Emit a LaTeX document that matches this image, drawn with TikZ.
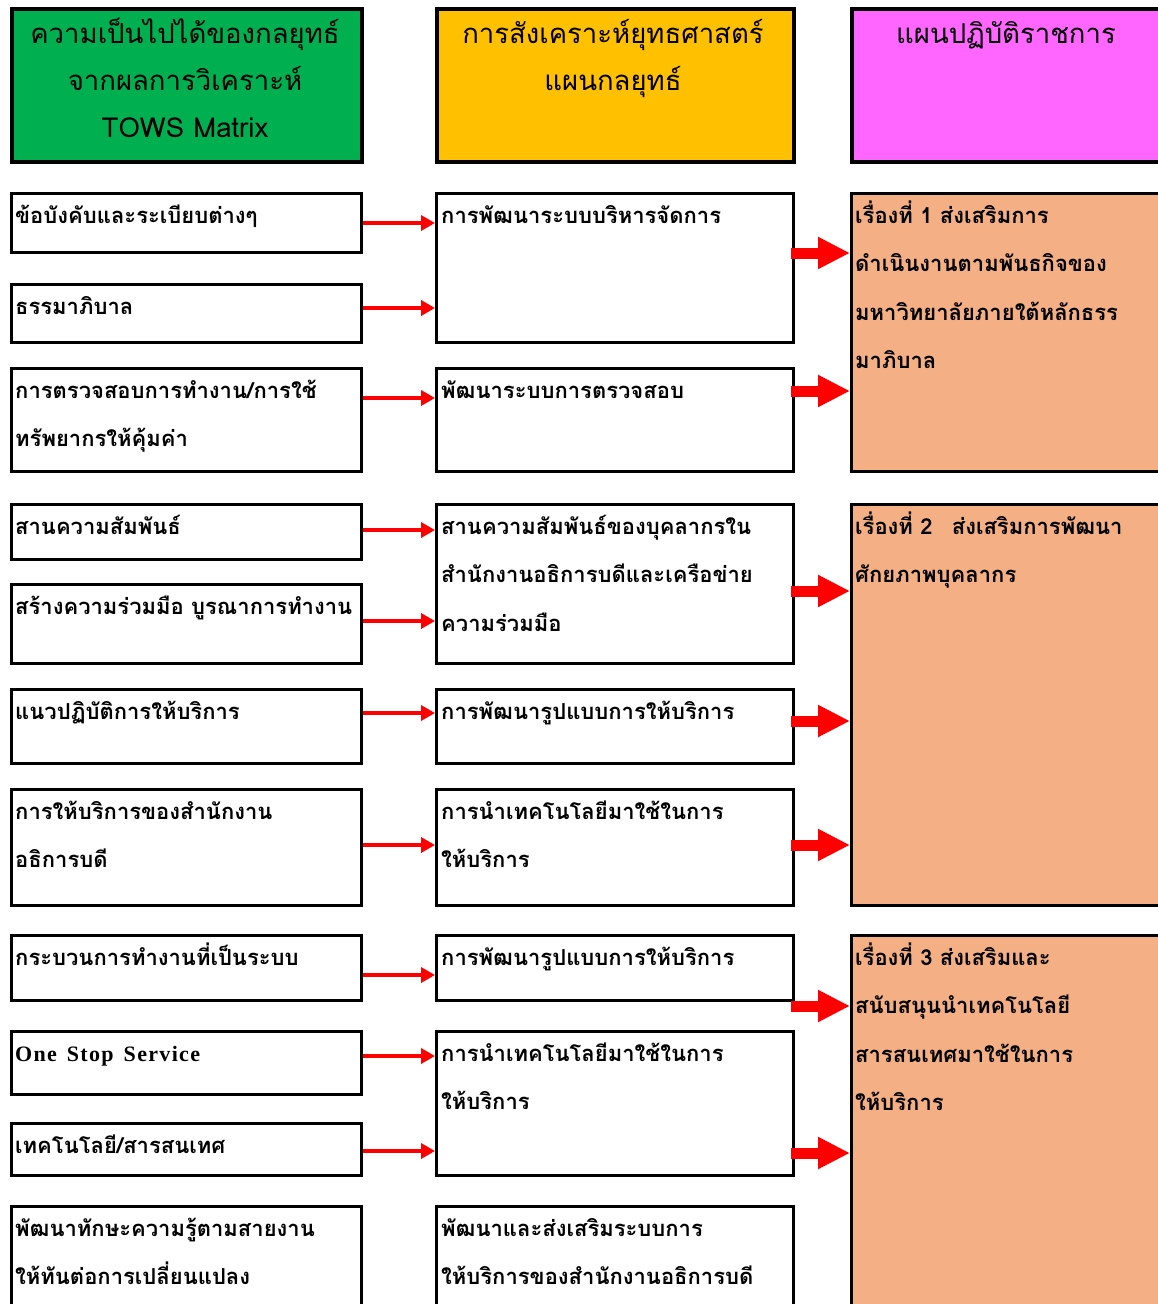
\documentclass[tikz,border=0pt]{standalone}
\usepackage{fontspec}
\setmainfont[Script=Thai]{Loma}
\newfontfamily\latinserif[LetterSpace=6]{Liberation Serif}
\usetikzlibrary{positioning}
\usetikzlibrary{arrows.meta}
\definecolor{headgreen}{HTML}{00B050}
\definecolor{headyellow}{HTML}{FFC000}
\definecolor{headpink}{HTML}{FF66FF}
\definecolor{planorange}{HTML}{F4B084}

\begin{document}
\begin{tikzpicture}[x=1pt, y=-1pt,
  headbox/.style={draw=black, line width=4, anchor=north west, minimum height=153},
  itembox/.style={draw=black, line width=3, fill=white, anchor=north west},
  headtext/.style={font=\fontsize{27.5}{47}\selectfont, text width=340, align=center, inner sep=0, anchor=base},
  itemtext/.style={font=\bfseries\fontsize{22}{48.5}\selectfont, text width=340, align=left, inner sep=0, anchor=base west},
  thinarrow/.style={draw=red, line width=4, -{Triangle[length=14pt,width=15pt]}},
  bigarrow/.style={draw=red, line width=11, -{Triangle[length=32pt,width=30pt]}}]

\useasboundingbox (0,0) rectangle (1158,1304);

% headers
{
\node[headbox, fill=headgreen, minimum width=350] (h1) at (10,7) {};
\node[headbox, fill=headyellow, minimum width=357] (h2) at (435,7) {};
\node[headbox, fill=headpink, minimum width=320] (h3) at (850,7) {};

\node[headtext] (h1t) at ([shift={(175,36)}]h1.north west) {ความเป็นไปได้ของกลยุทธ์\\ จากผลการวิเคราะห์\\ TOWS Matrix};
\node[headtext] (h2t) at ([shift={(178,36)}]h2.north west) {การสังเคราะห์ยุทธศาสตร์\\ แผนกลยุทธ์};
\node[headtext] (h3t) at ([shift={(156,36)}]h3.north west) {แผนปฏิบัติราชการ};
}

% left column
\begin{scope}{
\node[itembox, minimum width=350, minimum height=59] (l1) at (10,192) {};
\node[itembox, minimum width=350, minimum height=58] (l2) at (10,283) {};
\node[itembox, minimum width=350, minimum height=103] (l3) at (10,367) {};
\node[itembox, minimum width=350, minimum height=55] (l4) at (10,503) {};
\node[itembox, minimum width=350, minimum height=79] (l5) at (10,583) {};
\node[itembox, minimum width=350, minimum height=74] (l6) at (10,688) {};
\node[itembox, minimum width=350, minimum height=116] (l7) at (10,788) {};
\node[itembox, minimum width=350, minimum height=65] (l8) at (10,934) {};
\node[itembox, minimum width=350, minimum height=63] (l9) at (10,1030) {};
\node[itembox, minimum width=350, minimum height=52] (l10) at (10,1122) {};
\node[itembox, minimum width=350, minimum height=120] (l11) at (10,1205) {};

% nodes
\node[itemtext] (l1t) at ([shift={(5,31)}]l1.north west) {ข้อบังคับและระเบียบต่างๆ};
\node[itemtext] (l2t) at ([shift={(5,31)}]l2.north west) {ธรรมาภิบาล};
\node[itemtext] (l3t) at ([shift={(5,31)}]l3.north west) {การตรวจสอบการทำงาน/การใช้\\ ทรัพยากรให้คุ้มค่า};
\node[itemtext] (l4t) at ([shift={(5,31)}]l4.north west) {สานความสัมพันธ์};
\node[itemtext] (l5t) at ([shift={(5,31)}]l5.north west) {สร้างความร่วมมือ บูรณาการทำงาน};
\node[itemtext] (l6t) at ([shift={(5,31)}]l6.north west) {แนวปฏิบัติการให้บริการ};
\node[itemtext] (l7t) at ([shift={(5,31)}]l7.north west) {การให้บริการของสำนักงาน\\ อธิการบดี};
\node[itemtext] (l8t) at ([shift={(5,31)}]l8.north west) {กระบวนการทำงานที่เป็นระบบ};
\node[itemtext] (l9t) at ([shift={(5,31)}]l9.north west) {{\latinserif\bfseries One\hspace{10pt}Stop\hspace{10pt}Service}};
\node[itemtext] (l10t) at ([shift={(5,31)}]l10.north west) {เทคโนโลยี/สารสนเทศ};
\node[itemtext] (l11t) at ([shift={(5,31)}]l11.north west) {พัฒนาทักษะความรู้ตามสายงาน\\ ให้ทันต่อการเปลี่ยนแปลง};
} \end{scope}

% middle column
\begin{scope}{
\node[itembox, minimum width=357, minimum height=149] (m1) at (435,192) {};
\node[itembox, minimum width=357, minimum height=103] (m2) at (435,367) {};
\node[itembox, minimum width=357, minimum height=159] (m3) at (435,503) {};
\node[itembox, minimum width=357, minimum height=74] (m4) at (435,688) {};
\node[itembox, minimum width=357, minimum height=116] (m5) at (435,788) {};
\node[itembox, minimum width=357, minimum height=65] (m6) at (435,934) {};
\node[itembox, minimum width=357, minimum height=144] (m7) at (435,1030) {};
\node[itembox, minimum width=357, minimum height=120] (m8) at (435,1205) {};

% nodes
\node[itemtext] (m1t) at ([shift={(6,31)}]m1.north west) {การพัฒนาระบบบริหารจัดการ};
\node[itemtext] (m2t) at ([shift={(6,31)}]m2.north west) {พัฒนาระบบการตรวจสอบ};
\node[itemtext] (m3t) at ([shift={(6,31)}]m3.north west) {สานความสัมพันธ์ของบุคลากรใน\\ สำนักงานอธิการบดีและเครือข่าย\\ ความร่วมมือ};
\node[itemtext] (m4t) at ([shift={(6,31)}]m4.north west) {การพัฒนารูปแบบการให้บริการ};
\node[itemtext] (m5t) at ([shift={(6,31)}]m5.north west) {การนำเทคโนโลยีมาใช้ในการ\\ ให้บริการ};
\node[itemtext] (m6t) at ([shift={(6,31)}]m6.north west) {การพัฒนารูปแบบการให้บริการ};
\node[itemtext] (m7t) at ([shift={(6,31)}]m7.north west) {การนำเทคโนโลยีมาใช้ในการ\\ ให้บริการ};
\node[itemtext] (m8t) at ([shift={(6,31)}]m8.north west) {พัฒนาและส่งเสริมระบบการ\\ ให้บริการของสำนักงานอธิการบดี};
} \end{scope}

% right column
\begin{scope}{
\node[itembox, fill=planorange, minimum width=320, minimum height=278] (p1) at (850,192) {};
\node[itembox, fill=planorange, minimum width=320, minimum height=401] (p2) at (850,503) {};
\node[itembox, fill=planorange, minimum width=320, minimum height=390] (p3) at (850,934) {};

% nodes
\node[itemtext] (p1t) at ([shift={(5,31)}]p1.north west) {เรื่องที่ 1 ส่งเสริมการ\\ ดำเนินงานตามพันธกิจของ\\ มหาวิทยาลัยภายใต้หลักธรร\\ มาภิบาล};
\node[itemtext] (p2t) at ([shift={(5,31)}]p2.north west) {เรื่องที่ 2\hspace{12pt} ส่งเสริมการพัฒนา\\ ศักยภาพบุคลากร};
\node[itemtext] (p3t) at ([shift={(5,31)}]p3.north west) {เรื่องที่ 3 ส่งเสริมและ\\ สนับสนุนนำเทคโนโลยี\\ สารสนเทศมาใช้ในการ\\ ให้บริการ};
} \end{scope}

% thin arrows
\draw[thinarrow] (l1.east |- 0,223) -- (m1.west |- 0,223);
\draw[thinarrow] (l2.east |- 0,308) -- (m1.west |- 0,308);
\draw[thinarrow] (l3.east |- 0,398) -- (m2.west |- 0,398);
\draw[thinarrow] (l4.east |- 0,530) -- (m3.west |- 0,530);
\draw[thinarrow] (l5.east |- 0,621) -- (m3.west |- 0,621);
\draw[thinarrow] (l6.east |- 0,713) -- (m4.west |- 0,713);
\draw[thinarrow] (l7.east |- 0,845) -- (m5.west |- 0,845);
\draw[thinarrow] (l8.east |- 0,975) -- (m6.west |- 0,975);
\draw[thinarrow] (l9.east |- 0,1056) -- (m7.west |- 0,1056);
\draw[thinarrow] (l10.east |- 0,1151) -- (m7.west |- 0,1151);

% big arrows
\draw[bigarrow] ([xshift=-4]m1.east |- 0,253) -- (p1.west |- 0,253);
\draw[bigarrow] ([xshift=-4]m2.east |- 0,391) -- (p1.west |- 0,391);
\draw[bigarrow] ([xshift=-4]m3.east |- 0,591) -- (p2.west |- 0,591);
\draw[bigarrow] ([xshift=-4]m4.east |- 0,721) -- (p2.west |- 0,721);
\draw[bigarrow] ([xshift=-4]m5.east |- 0,845) -- (p2.west |- 0,845);
\draw[bigarrow] ([xshift=-4]m6.east |- 0,1006) -- (p3.west |- 0,1006);
\draw[bigarrow] ([xshift=-4]m7.east |- 0,1153) -- (p3.west |- 0,1153);

\end{tikzpicture}
\end{document}
